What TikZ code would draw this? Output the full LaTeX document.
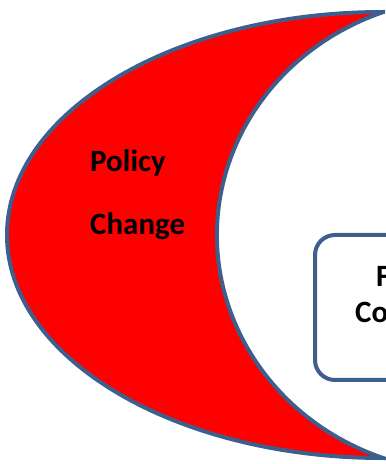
\documentclass[tikz,border=0pt]{standalone}
\usepackage{fontspec}
\setmainfont{Carlito}
\definecolor{edge}{HTML}{3C5F8E}
\begin{document}
\begin{tikzpicture}[x=1pt,y=1pt,
  lbl/.style={font=\bfseries\fontsize{31}{31}\selectfont, inner sep=0pt, anchor=base west},
  outline/.style={draw=edge, line width=4pt}]
\useasboundingbox (0,0) rectangle (386,464);
\clip (0,0) rectangle (386,464);
\fill[white] (0,0) rectangle (386,464);
\draw[outline, fill=red, line join=miter]
  (383,452) arc[start angle=90,end angle=270,x radius=376pt,y radius=223pt]
  arc[start angle=249.9,end angle=110.1,x radius=253pt,y radius=237.4pt] -- cycle;
\node[lbl] (pol) at (90,292) {Policy};
\node[lbl] (chg) at (90,229) {Change};
\node[outline, rounded corners=20pt, minimum width=140pt, minimum height=145pt, anchor=north west, inner sep=0pt] (box) at (313,231) {};
\node[lbl] (f) at (376,177) {F};
\node[lbl] (co) at (355,141) {Co};
\end{tikzpicture}
\end{document}
